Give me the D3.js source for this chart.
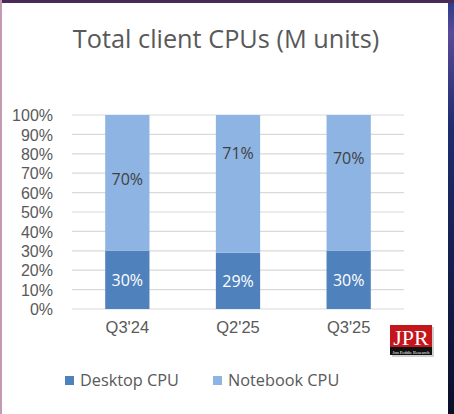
<!DOCTYPE html>
<html>
<head>
<meta charset="UTF-8">
<title>Total client CPUs</title>
<script src="https://d3js.org/d3.v7.min.js"></script>
<style>
  html, body { margin: 0; padding: 0; background: #1b1f4a; }
  svg { display: block; font-family: "Open Sans", "Noto Sans", sans-serif; }
</style>
</head>
<body>
<svg id="chart" width="454" height="414"></svg>
<script>
// data
var quarters = ["Q3'24", "Q2'25", "Q3'25"];
var desktop = [30, 29, 30];
var notebook = [70, 71, 70];
var seriesNames = ["Desktop CPU", "Notebook CPU"];
var yTicks = [0, 10, 20, 30, 40, 50, 60, 70, 80, 90, 100];

var colors = ["#4f81bd", "#8eb4e3"];
// where the notebook labels sit inside their bar (fraction of the segment)
var noteLabelAt = [0.53, 0.72, 0.68];

var svg = d3.select("#chart");

// background: dark frame with white panel
var defs = svg.append("defs");
var grad = defs.append("linearGradient").attr("id", "edge").attr("x1", 0).attr("x2", 0).attr("y1", 0).attr("y2", 1);
grad.append("stop").attr("offset", "0%").attr("stop-color", "#2b3a8c");
grad.append("stop").attr("offset", "8%").attr("stop-color", "#5a4a9a");
grad.append("stop").attr("offset", "30%").attr("stop-color", "#1f2d70");
grad.append("stop").attr("offset", "100%").attr("stop-color", "#0b0e2a");
svg.append("rect").attr("width", 454).attr("height", 414).attr("fill", "url(#edge)");
svg.append("rect").attr("x", 0).attr("y", 0).attr("width", 454).attr("height", 3).attr("fill", "#4a2a58");
svg.append("rect").attr("x", 0).attr("y", 0).attr("width", 2).attr("height", 414).attr("fill", "#c49ab0");
svg.append("rect").attr("x", 2).attr("y", 3).attr("width", 446).attr("height", 411).attr("fill", "#ffffff");

var margin = {top: 115, left: 72, right: 50, bottom: 105};
var width = 454 - margin.left - margin.right;
var height = 414 - margin.top - margin.bottom;

var g = svg.append("g").attr("transform", "translate(" + margin.left + "," + margin.top + ")");

var x = d3.scaleBand().domain(quarters).range([0, width]).paddingInner(0.6).paddingOuter(0.3);
var y = d3.scaleLinear().domain([0, 100]).range([height, 0]);

// title
svg.append("text")
  .attr("x", 226).attr("y", 48)
  .attr("text-anchor", "middle")
  .style("font-size", "25.3px")
  .attr("fill", "#595959")
  .text("Total client CPUs (M units)");

// gridlines
g.selectAll(".grid").data(yTicks).enter().append("line")
  .attr("x1", 0).attr("x2", width)
  .attr("y1", function(d) { return y(d); })
  .attr("y2", function(d) { return y(d); })
  .attr("stroke", "#d9d9d9").attr("stroke-width", 1.2);

// y axis
var yAxis = g.append("g")
  .call(d3.axisLeft(y).tickValues(yTicks).tickFormat(function(d) { return d + "%"; }).tickSize(0).tickPadding(19));
yAxis.select(".domain").remove();
yAxis.selectAll("text").style("font-size", "16px").attr("fill", "#595959").attr("dy", "0.36em");

// x axis
var xAxis = g.append("g")
  .attr("transform", "translate(0," + height + ")")
  .call(d3.axisBottom(x).tickSize(0).tickPadding(12));
xAxis.select(".domain").remove();
xAxis.selectAll("text").style("font-size", "16.5px").attr("fill", "#595959");

// stacked bars
var rows = quarters.map(function(q, i) { return {q: q, d: desktop[i], n: notebook[i], i: i}; });

g.selectAll(".desk").data(rows).enter().append("rect")
  .attr("x", function(r) { return x(r.q); })
  .attr("width", x.bandwidth())
  .attr("y", function(r) { return y(r.d); })
  .attr("height", function(r) { return y(0) - y(r.d); })
  .attr("fill", colors[0]);

g.selectAll(".note").data(rows).enter().append("rect")
  .attr("x", function(r) { return x(r.q); })
  .attr("width", x.bandwidth())
  .attr("y", function(r) { return y(r.d + r.n); })
  .attr("height", function(r) { return y(r.d) - y(r.d + r.n); })
  .attr("fill", colors[1]);

// labels
g.selectAll(".dlab").data(rows).enter().append("text")
  .attr("x", function(r) { return x(r.q) + x.bandwidth() / 2; })
  .attr("y", function(r) { return y(r.d / 2); })
  .attr("dy", "0.36em")
  .attr("text-anchor", "middle")
  .style("font-size", "16px")
  .attr("fill", "#ffffff")
  .text(function(r) { return r.d + "%"; });

g.selectAll(".nlab").data(rows).enter().append("text")
  .attr("x", function(r) { return x(r.q) + x.bandwidth() / 2; })
  .attr("y", function(r) { return y(r.d + r.n * noteLabelAt[r.i]); })
  .attr("dy", "0.36em")
  .attr("text-anchor", "middle")
  .style("font-size", "16px")
  .attr("fill", "#404040")
  .text(function(r) { return r.n + "%"; });

// legend
var legX = [65, 213];
var leg = svg.selectAll(".leg").data(seriesNames).enter().append("g")
  .attr("transform", function(d, i) { return "translate(" + legX[i] + ",376)"; });
leg.append("rect").attr("width", 9).attr("height", 9).attr("fill", function(d, i) { return colors[i]; });
leg.append("text").attr("x", 15).attr("y", 4.5).attr("dy", "0.36em")
  .style("font-size", "16.3px").attr("fill", "#595959")
  .text(function(d) { return d; });

// JPR logo
var logo = svg.append("g").attr("transform", "translate(390,325)");
logo.append("rect").attr("x", 2).attr("y", 2).attr("width", 42).attr("height", 30).attr("fill", "#b0b0b0").attr("opacity", 0.6);
logo.append("rect").attr("width", 42).attr("height", 23).attr("fill", "#c4161c");
logo.append("rect").attr("y", 22).attr("width", 42).attr("height", 8).attr("fill", "#111111");
logo.append("text").attr("x", 21).attr("y", 20).attr("text-anchor", "middle")
  .style("font-family", "'Liberation Serif', 'DejaVu Serif', serif").style("font-size", "22px")
  .attr("fill", "#ffffff").text("JPR");
logo.append("text").attr("x", 21).attr("y", 28.5).attr("text-anchor", "middle")
  .style("font-family", "'Liberation Serif', serif").style("font-size", "4.5px")
  .attr("fill", "#ffffff").text("Jon Peddie Research");
</script>
</body>
</html>
